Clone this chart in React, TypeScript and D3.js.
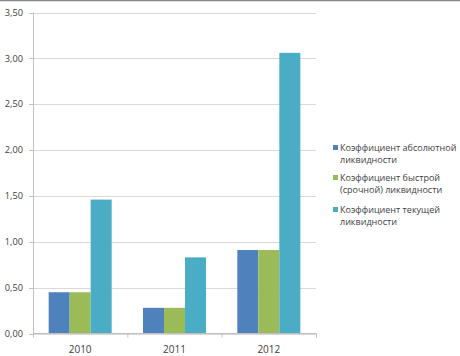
import React from "react";
import * as d3 from "d3";

const categories = ["2010", "2011", "2012"];
const seriesNames = [
  ["Коэффициент абсолютной", "ликвидности"],
  ["Коэффициент быстрой", "(срочной) ликвидности"],
  ["Коэффициент текущей", "ликвидности"],
];
const absoluteLiquidity = [0.45, 0.28, 0.91];
const quickLiquidity = [0.45, 0.28, 0.91];
const currentLiquidity = [1.46, 0.83, 3.06];
const yTicks = [0, 0.5, 1, 1.5, 2, 2.5, 3, 3.5];
const colors = ["#4f81bd", "#9bbb59", "#4bacc6"];

const W = 460, H = 356;
const left = 33, right = 316, top = 12.5, bottom = 333.5;

export default function App() {
  const series = [absoluteLiquidity, quickLiquidity, currentLiquidity];
  const x = d3.scaleBand<string>().domain(categories).range([left, right]).paddingInner(0).paddingOuter(0);
  const y = d3.scaleLinear().domain([0, 3.5]).range([bottom, top]);
  const barW = 21;
  const fmt = (v: number) => v.toFixed(2).replace(".", ",");
  const font = "'Open Sans', 'Noto Sans', sans-serif";
  const bounds = [...categories.map((c) => x(c)!), right];
  return (
    <svg width={W} height={H} style={{ position: "absolute", left: 0, top: 0, background: "#fff" }}>
      <line x1={0} x2={W} y1={0.5} y2={0.5} stroke="#888" strokeWidth={1.5} />
      {yTicks.map((t) => (
        <g key={t}>
          <line x1={left} x2={right} y1={Math.round(y(t)) + 0.5} y2={Math.round(y(t)) + 0.5} stroke="#d9d9d9" />
          <line x1={left - 4} x2={left} y1={Math.round(y(t)) + 0.5} y2={Math.round(y(t)) + 0.5} stroke="#bfbfbf" />
          <text x={23} y={y(t) + 3.2} textAnchor="end" fontSize={9.2} fontFamily={font} fill="#404040">
            {fmt(t)}
          </text>
        </g>
      ))}
      {categories.map((c, i) =>
        series.map((s, j) => {
          const x0 = x(c)! + x.bandwidth() / 2 - (barW * 3) / 2 + j * barW;
          return (
            <rect key={c + j} x={x0} y={y(s[i])} width={barW} height={bottom - y(s[i])} fill={colors[j]} />
          );
        })
      )}
      <line x1={left + 0.5} x2={left + 0.5} y1={top} y2={bottom} stroke="#bfbfbf" />
      <line x1={left} x2={right} y1={bottom} y2={bottom} stroke="#bfbfbf" />
      {bounds.map((b, i) => (
        <line key={i} x1={b + 0.5} x2={b + 0.5} y1={bottom} y2={bottom + 4} stroke="#bfbfbf" />
      ))}
      {categories.map((c) => (
        <text key={c} x={x(c)! + x.bandwidth() / 2} y={353} textAnchor="middle" fontSize={10} fontFamily={font} fill="#404040">
          {c}
        </text>
      ))}
      {seriesNames.map((lines, j) => {
        const y0 = [151, 181, 213][j];
        return (
          <g key={j}>
            <rect x={333} y={y0 - 6} width={5} height={5} fill={colors[j]} />
            {lines.map((ln, k) => (
              <text key={k} x={340} y={y0 + k * 12} fontSize={9} fontFamily={font} fill="#404040">
                {ln}
              </text>
            ))}
          </g>
        );
      })}
    </svg>
  );
}
